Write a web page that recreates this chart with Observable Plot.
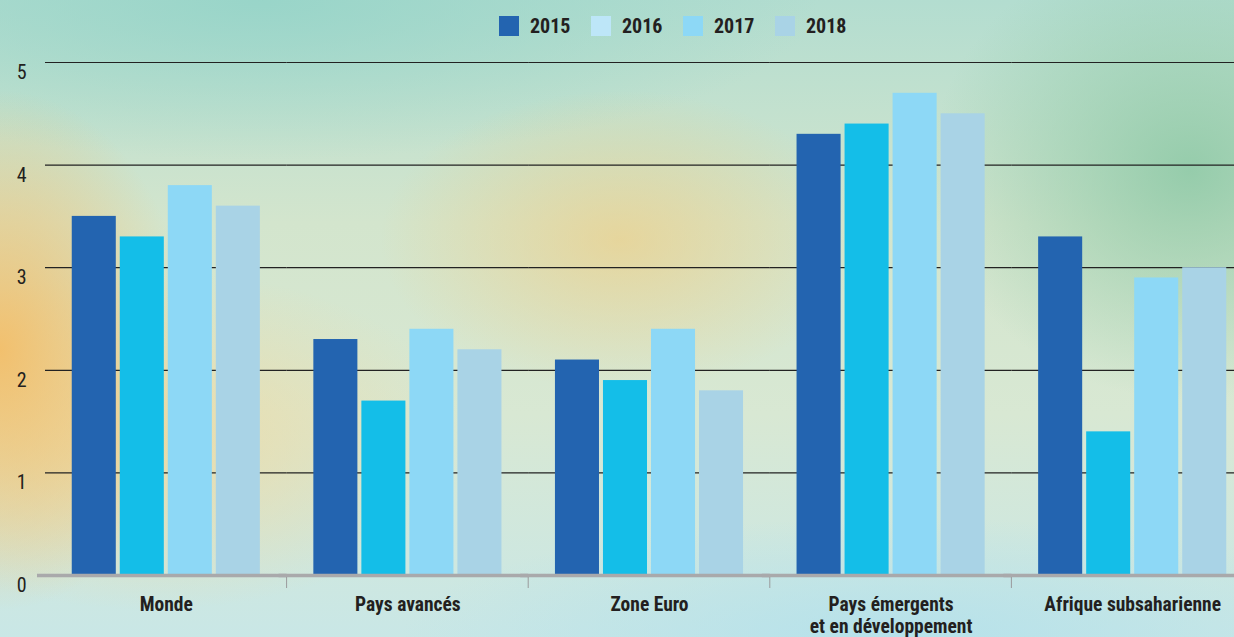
<!DOCTYPE html>
<html>
<head>
<meta charset="utf-8">
<script src="https://cdn.jsdelivr.net/npm/d3@7"></script>
<script src="https://cdn.jsdelivr.net/npm/@observablehq/plot@0.6"></script>
<style>
  html, body { margin: 0; padding: 0; width: 1234px; height: 637px; overflow: hidden; }
  body {
    position: relative;
    font-family: "Liberation Sans Narrow", "Roboto Condensed", "Liberation Sans", sans-serif;
    background:
      radial-gradient(ellipse 190px 260px at 0px 350px, rgba(243,190,105,0.95), rgba(243,190,105,0)),
      radial-gradient(ellipse 320px 170px at 150px 440px, rgba(245,215,150,0.7), rgba(245,215,150,0)),
      radial-gradient(ellipse 240px 150px at 620px 240px, rgba(240,205,130,0.65), rgba(240,205,130,0)),
      radial-gradient(ellipse 260px 230px at 1190px 170px, rgba(140,200,165,0.85), rgba(140,200,165,0)),
      radial-gradient(ellipse 560px 160px at 260px 0px, rgba(150,212,200,0.9), rgba(150,212,200,0)),
      radial-gradient(ellipse 500px 120px at 900px 637px, rgba(180,225,235,0.9), rgba(180,225,235,0)),
      linear-gradient(180deg, #b3ddd0 0%, #d3e5cd 35%, #d8e8d3 65%, #c9e7e6 100%);
  }
  #legend { position: absolute; top: 14px; left: 499px; display: flex; align-items: center; }
  #legend .item { display: flex; align-items: center; width: 92px; }
  #legend .sw { width: 20px; height: 20px; margin-right: 11px; flex: none; }
  #legend .lb { font-weight: bold; font-size: 20px; color: #231f20; white-space: nowrap; }
  #chart { position: absolute; top: 48px; left: 0; }
</style>
</head>
<body>
<div id="legend"></div>
<div id="chart"></div>
<script>
const groups = ["Monde", "Pays avancés", "Zone Euro", "Pays émergents\net en développement", "Afrique subsaharienne"];
const years = ["2015", "2016", "2017", "2018"];
const v2015 = [3.5, 2.3, 2.1, 4.3, 3.3];
const v2016 = [3.3, 1.7, 1.9, 4.4, 1.4];
const v2017 = [3.8, 2.4, 2.4, 4.7, 2.9];
const v2018 = [3.6, 2.2, 1.8, 4.5, 3.0];
const yTicks = [0, 1, 2, 3, 4, 5];
const barColors = ["#2364b0", "#14bee8", "#8dd8f6", "#a9d3e6"];
const legendColors = ["#2364b0", "#bde6f8", "#8dd8f6", "#a9d3e6"];

const series = [v2015, v2016, v2017, v2018];
const data = [];
groups.forEach((g, i) => years.forEach((y, j) => data.push({group: g, year: y, value: series[j][i]})));

// legend
const leg = document.getElementById("legend");
years.forEach((y, j) => {
  const it = document.createElement("div"); it.className = "item";
  const sw = document.createElement("div"); sw.className = "sw"; sw.style.background = legendColors[j];
  const lb = document.createElement("span"); lb.className = "lb"; lb.textContent = y;
  it.appendChild(sw); it.appendChild(lb); leg.appendChild(it);
});

const chart = Plot.plot({
  width: 1234,
  height: 589,
  marginTop: 14,
  marginBottom: 62,
  marginLeft: 45,
  marginRight: -19,
  style: {background: "transparent", fontFamily: "'Liberation Sans Narrow', 'Roboto Condensed', 'Liberation Sans', sans-serif", color: "#231f20"},
  fx: {domain: groups, padding: 0, label: null, round: false},
  x: {domain: years, paddingInner: 0.083, paddingOuter: 0.557, axis: null, round: false},
  y: {domain: [0, 5], label: null},
  color: {domain: years, range: barColors},
  marks: [
    Plot.ruleY([1, 2, 3, 4, 5], {stroke: "#222", strokeWidth: 1.2}),
    Plot.barY(data, {fx: "group", x: "year", y: "value", fill: "year"}),
    Plot.ruleY([0], {stroke: "#a9a9ab", strokeWidth: 3.5, insetLeft: -8}),
    Plot.axisY(yTicks, {tickSize: 0, tickPadding: 19, fontSize: 20, dy: 10, label: null, fill: "#231f20", tickFormat: d => String(d)}),
    Plot.axisFx({anchor: "bottom", tickSize: 0, tickPadding: 20, fontSize: 19.5, fontWeight: "bold", label: null, lineHeight: 1.12, fill: "#231f20"})
  ]
});
document.getElementById("chart").appendChild(chart);

// group separator ticks below the baseline, positioned by the fx scale
const fxS = chart.scale("fx");
const yS = chart.scale("y");
const y0 = yS.apply(0);
const svg = d3.select(chart);
groups.slice(1).forEach((g) => {
  const xp = fxS.apply(g);
  svg.append("line").attr("x1", xp).attr("x2", xp).attr("y1", y0 + 2).attr("y2", y0 + 13)
    .attr("stroke", "#9a9a9c").attr("stroke-width", 1);
});
</script>
</body>
</html>
